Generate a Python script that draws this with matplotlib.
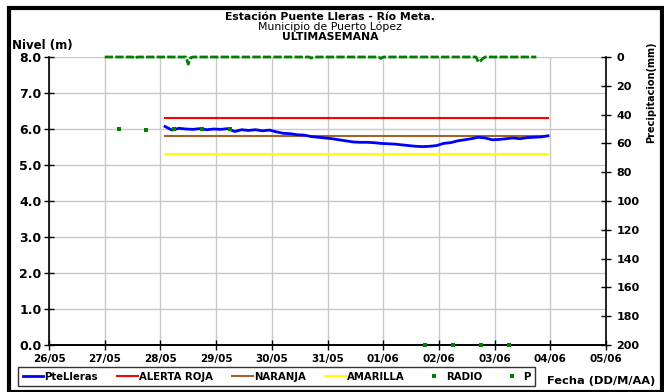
import matplotlib
matplotlib.use("Agg")
import matplotlib.pyplot as plt
import matplotlib.dates as mdates
from matplotlib.lines import Line2D
from matplotlib.patches import Rectangle
import pandas as pd

plt.rcParams['font.family'] = ['DejaVu Sans']

# nivel PteLleras, lecturas cada 3 horas
nivel_inicio = "2013-05-28 02:00"
nivel = [6.07, 5.97, 6.02, 6.00, 5.99, 6.01, 5.98, 6.00, 5.99, 6.01,
         5.93, 5.98, 5.96, 5.98, 5.95, 5.97, 5.92, 5.88, 5.87, 5.84,
         5.83, 5.79, 5.77, 5.75, 5.73, 5.70, 5.67, 5.64, 5.63, 5.63,
         5.62, 5.60, 5.59, 5.58, 5.56, 5.54, 5.52, 5.51, 5.52, 5.54,
         5.60, 5.62, 5.67, 5.70, 5.73, 5.77, 5.75, 5.70, 5.71, 5.73,
         5.75, 5.73, 5.76, 5.77, 5.78, 5.81]

# umbrales
umbral_ini = "2013-05-28 02:00"
umbral_fin = "2013-06-03 23:00"
alerta_roja = 6.3
naranja = 5.8
amarilla = 5.3

# lecturas radio
radio_fechas = ["2013-05-27 06:00", "2013-05-27 18:00", "2013-05-28 06:00",
                "2013-05-28 18:00", "2013-05-29 06:00", "2013-06-01 18:00",
                "2013-06-02 06:00", "2013-06-02 18:00", "2013-06-03 06:00"]
radio_valores = [6.0, 5.98, 6.0, 6.0, 6.0, 0.0, 0.0, 0.0, 0.0]

# precipitacion horaria (mm); horas sin lluvia = 0
p_inicio = "2013-05-27 00:00"
p_fin = "2013-06-03 18:00"
p_lluvia = {"2013-05-27 13:00": 1.0, "2013-05-28 12:00": 5.0,
            "2013-05-28 13:00": 0.5, "2013-05-30 17:00": 0.7,
            "2013-05-31 23:00": 1.0, "2013-06-02 17:00": 3.5,
            "2013-06-02 18:00": 2.5, "2013-06-02 19:00": 1.0}

t_nivel = pd.date_range(nivel_inicio, periods=len(nivel), freq="3h")
t_p = pd.date_range(p_inicio, p_fin, freq="1h")
p = pd.Series(0.0, index=t_p)
for k, v in p_lluvia.items():
    p[pd.Timestamp(k)] = v

fig = plt.figure(figsize=(6.64, 3.92), dpi=100)
ax = fig.add_axes([49/664, 1-345/392, 557/664, 288/392])
ax2 = ax.twinx()

ax.plot(t_nivel, nivel, color='#0000ff', lw=2.0, zorder=3)
tu = pd.to_datetime([umbral_ini, umbral_fin])
ax.plot(tu, [alerta_roja]*2, color='#ff0000', lw=1.5, zorder=2)
ax.plot(tu, [naranja]*2, color='#a0642d', lw=1.5, zorder=2)
ax.plot(tu, [amarilla]*2, color='#ffff00', lw=1.5, zorder=2)

ax2.plot(pd.to_datetime(radio_fechas), radio_valores, ls='none', marker='s',
         ms=2.2, mew=0, color='#008000', transform=ax.transData, zorder=4,
         clip_on=False)
ax2.plot(p.index, p.values, ls=(0, (3, 0.8)), lw=2.0, color='#008000',
         zorder=4, clip_on=False)

ax.set_xlim(pd.Timestamp("2013-05-26"), pd.Timestamp("2013-06-05"))
ax.set_ylim(0, 8)
ax2.set_ylim(200, 0)
ax.set_yticks([0, 1, 2, 3, 4, 5, 6, 7, 8])
ax.set_yticklabels(["%.1f" % v for v in range(9)])
ax2.set_yticks(range(0, 201, 20))
ax.xaxis.set_major_locator(mdates.DayLocator())
ax.xaxis.set_major_formatter(mdates.DateFormatter('%d/%m'))
ax.grid(True, color='#c8c8c8', lw=1)

for a in (ax, ax2):
    a.spines['top'].set_visible(False)
    for s in a.spines.values():
        s.set_linewidth(1.2)
ax.spines['right'].set_visible(False)
ax2.spines['left'].set_visible(False)
ax.tick_params(axis='both', direction='inout', length=7, width=1, pad=2)
ax.tick_params(axis='x', labelsize=7.5, pad=3)
ax.tick_params(axis='y', labelsize=9)
ax2.tick_params(axis='y', direction='inout', length=7, width=1,
                labelsize=8, pad=4)
for lab in ax.get_xticklabels() + ax.get_yticklabels() + ax2.get_yticklabels():
    lab.set_fontweight('bold')

fig.text(0.497, 1-17/392, "Estación Puente Lleras - Río Meta.", ha='center',
         va='center', fontsize=7.8, fontweight='bold')
fig.text(0.497, 1-27/392, "Municipio de Puerto López", ha='center',
         va='center', fontsize=7.8)
fig.text(0.497, 1-37/392, "ULTIMASEMANA", ha='center', va='center',
         fontsize=7.8, fontweight='bold')
fig.text(12/664, 1-45/392, "Nivel (m)", ha='left', va='center',
         fontsize=8.5, fontweight='bold')
fig.text(651/664, 1-92/392, "Precipitacion(mm)", ha='center', va='center',
         rotation=90, fontsize=7, fontweight='bold')
fig.text(601/664, 1-381/392, "Fecha (DD/M/AA)", ha='center', va='center',
         fontsize=8.2, fontweight='bold')

handles = [Line2D([], [], color='#0000ff', lw=2.0),
           Line2D([], [], color='#ff0000', lw=1.5),
           Line2D([], [], color='#a0642d', lw=1.5),
           Line2D([], [], color='#ffff00', lw=1.5),
           Line2D([], [], ls='none', marker='s', ms=2.2, mew=0, color='#008000'),
           Line2D([], [], ls='none', marker='s', ms=2.2, mew=0, color='#008000')]
labels = ["PteLleras", "ALERTA ROJA", "NARANJA", "AMARILLA", "RADIO", "P"]
leg = fig.legend(handles, labels, loc='lower left', ncol=6,
                 bbox_to_anchor=(13/664, 0.5/392),
                 prop={'weight': 'bold', 'size': 7.3}, frameon=True,
                 fancybox=False, edgecolor='black', handlelength=2.0,
                 handletextpad=0.15, columnspacing=1.9, borderpad=0.45)
leg.get_frame().set_linewidth(1)

fig.patches.append(Rectangle((9/664, 0), 653/664, 1-8/392,
                             transform=fig.transFigure, fill=False,
                             edgecolor='black', lw=3))

fig.savefig("out.png", dpi=100)
